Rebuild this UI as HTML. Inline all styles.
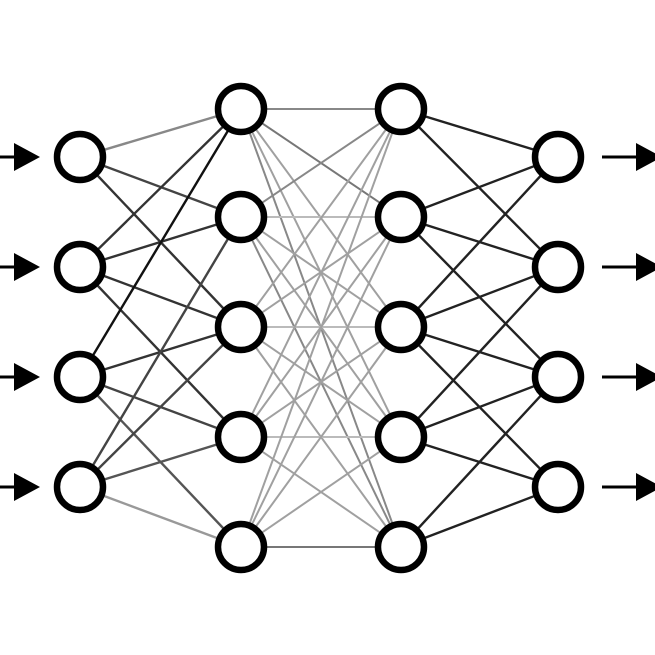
<!DOCTYPE html>
<html><head><meta charset="utf-8"><style>html,body{margin:0;padding:0;background:#fff;width:655px;height:655px;overflow:hidden}</style></head>
<body>
<svg width="655" height="655" viewBox="0 0 655 655" xmlns="http://www.w3.org/2000/svg">
<g stroke-width="2.4" fill="none">
<!-- L1-L2 -->
<g stroke="#333">
<line x1="80" y1="157" x2="241" y2="109" stroke="#888"/>
<line x1="80" y1="157" x2="241" y2="217" stroke="#444"/>
<line x1="80" y1="157" x2="241" y2="327"/>
<line x1="80" y1="267" x2="241" y2="109"/>
<line x1="80" y1="267" x2="241" y2="217"/>
<line x1="80" y1="267" x2="241" y2="327"/>
<line x1="80" y1="267" x2="241" y2="437"/>
<line x1="80" y1="377" x2="241" y2="109" stroke="#111"/>
<line x1="80" y1="377" x2="241" y2="327"/>
<line x1="80" y1="377" x2="241" y2="437" stroke="#444"/>
<line x1="80" y1="377" x2="241" y2="547" stroke="#555"/>
<line x1="80" y1="487" x2="241" y2="217" stroke="#444"/>
<line x1="80" y1="487" x2="241" y2="327" stroke="#444"/>
<line x1="80" y1="487" x2="241" y2="437" stroke="#555"/>
<line x1="80" y1="487" x2="241" y2="547" stroke="#999"/>
</g>
<!-- L2-L3 -->
<g stroke="#a0a0a0" stroke-width="2">
<line x1="241" y1="109" x2="401" y2="109" stroke="#888"/>
<line x1="241" y1="109" x2="401" y2="217" stroke="#777"/>
<line x1="241" y1="109" x2="401" y2="327"/>
<line x1="241" y1="109" x2="401" y2="437"/>
<line x1="241" y1="109" x2="401" y2="547" stroke="#888"/>
<line x1="241" y1="217" x2="401" y2="109" stroke="#888"/>
<line x1="241" y1="217" x2="401" y2="217" stroke="#bbb"/>
<line x1="241" y1="217" x2="401" y2="327"/>
<line x1="241" y1="217" x2="401" y2="437"/>
<line x1="241" y1="217" x2="401" y2="547" stroke="#888"/>
<line x1="241" y1="327" x2="401" y2="109"/>
<line x1="241" y1="327" x2="401" y2="217"/>
<line x1="241" y1="327" x2="401" y2="327" stroke="#bbb"/>
<line x1="241" y1="327" x2="401" y2="437"/>
<line x1="241" y1="327" x2="401" y2="547"/>
<line x1="241" y1="437" x2="401" y2="109"/>
<line x1="241" y1="437" x2="401" y2="217"/>
<line x1="241" y1="437" x2="401" y2="327"/>
<line x1="241" y1="437" x2="401" y2="437" stroke="#bbb"/>
<line x1="241" y1="437" x2="401" y2="547"/>
<line x1="241" y1="547" x2="401" y2="109"/>
<line x1="241" y1="547" x2="401" y2="217"/>
<line x1="241" y1="547" x2="401" y2="327"/>
<line x1="241" y1="547" x2="401" y2="437"/>
<line x1="241" y1="547" x2="401" y2="547" stroke="#777"/>
</g>
<!-- L3-L4 -->
<g stroke="#222">
<line x1="401" y1="109" x2="558" y2="157"/>
<line x1="401" y1="109" x2="558" y2="267"/>
<line x1="401" y1="217" x2="558" y2="157"/>
<line x1="401" y1="217" x2="558" y2="267"/>
<line x1="401" y1="217" x2="558" y2="377"/>
<line x1="401" y1="327" x2="558" y2="157"/>
<line x1="401" y1="327" x2="558" y2="267"/>
<line x1="401" y1="327" x2="558" y2="377"/>
<line x1="401" y1="327" x2="558" y2="487"/>
<line x1="401" y1="437" x2="558" y2="267"/>
<line x1="401" y1="437" x2="558" y2="377"/>
<line x1="401" y1="437" x2="558" y2="487"/>
<line x1="401" y1="547" x2="558" y2="377"/>
<line x1="401" y1="547" x2="558" y2="487"/>
</g>
<!-- arrows -->
<g stroke="#000" stroke-width="3">
<line x1="0" y1="157" x2="20" y2="157"/>
<line x1="0" y1="267" x2="20" y2="267"/>
<line x1="0" y1="377" x2="20" y2="377"/>
<line x1="0" y1="487" x2="20" y2="487"/>
<line x1="602" y1="157" x2="640" y2="157"/>
<line x1="602" y1="267" x2="640" y2="267"/>
<line x1="602" y1="377" x2="640" y2="377"/>
<line x1="602" y1="487" x2="640" y2="487"/>
</g>
</g>
<g fill="#000">
<polygon points="14,143 40,157 14,171"/>
<polygon points="14,253 40,267 14,281"/>
<polygon points="14,363 40,377 14,391"/>
<polygon points="14,473 40,487 14,501"/>
<polygon points="636,143 662,157 636,171"/>
<polygon points="636,253 662,267 636,281"/>
<polygon points="636,363 662,377 636,391"/>
<polygon points="636,473 662,487 636,501"/>
</g>
<g fill="#fff" stroke="#000" stroke-width="6.5">
<circle cx="80" cy="157" r="23"/><circle cx="80" cy="267" r="23"/><circle cx="80" cy="377" r="23"/><circle cx="80" cy="487" r="23"/>
<circle cx="241" cy="109" r="23"/><circle cx="241" cy="217" r="23"/><circle cx="241" cy="327" r="23"/><circle cx="241" cy="437" r="23"/><circle cx="241" cy="547" r="23"/>
<circle cx="401" cy="109" r="23"/><circle cx="401" cy="217" r="23"/><circle cx="401" cy="327" r="23"/><circle cx="401" cy="437" r="23"/><circle cx="401" cy="547" r="23"/>
<circle cx="558" cy="157" r="23"/><circle cx="558" cy="267" r="23"/><circle cx="558" cy="377" r="23"/><circle cx="558" cy="487" r="23"/>
</g>
</svg>
</body></html>
